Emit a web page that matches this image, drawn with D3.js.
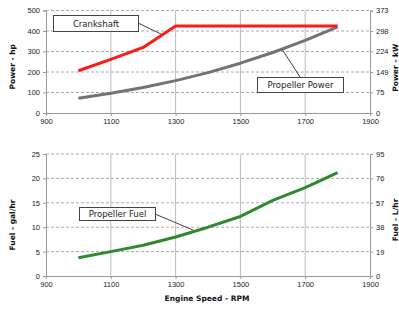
<!DOCTYPE html>
<html>
<head>
<meta charset="utf-8">
<script src="https://cdn.jsdelivr.net/npm/d3@7"></script>
<style>
  body { margin: 0; background: #fff; }
  svg { font-family: 'DejaVu Sans', Verdana, sans-serif; }
  .tick text { font-size: 7.5px; fill: #222; }
  .axis path, .axis line { stroke: #999; }
  .title { font-size: 7.5px; font-weight: bold; fill: #111; }
  .note text { font-size: 8.5px; fill: #222; }
</style>
</head>
<body>
<script>
'use strict'

// engine speed (rpm)
var rpm = [1000, 1100, 1200, 1300, 1400, 1500, 1600, 1700, 1800]
var crankRpm = [1000, 1100, 1200, 1300, 1800]
var crankHp = [206, 262, 320, 424, 424]
var propHp = [72, 96, 124, 158, 197, 243, 295, 354, 420]
var propFuel = [3.75, 5.0, 6.3, 8.0, 10.0, 12.2, 15.5, 18.1, 21.2]

var xTicks = [900, 1100, 1300, 1500, 1700, 1900]
var hpTicks = [0, 100, 200, 300, 400, 500]
var kwTicks = [0, 75, 149, 224, 298, 373]
var galTicks = [0, 5, 10, 15, 20, 25]
var lTicks = [0, 19, 38, 57, 76, 95]

var width = 399
var height = 310

var svg = d3.select('body').append('svg')
  .attr('width', width)
  .attr('height', height)

var x = d3.scaleLinear().domain([900, 1900]).range([46, 370])

function panel (opts) {
  var g = svg.append('g')
  var y = d3.scaleLinear().domain(opts.domain).range([opts.bottom, opts.top])
  var y2 = d3.scaleLinear().domain(opts.domain2).range([opts.bottom, opts.top])

  // dashed horizontal grid
  g.selectAll('.hgrid')
    .data(opts.ticks.slice(1))
    .enter().append('line')
    .attr('x1', x.range()[0]).attr('x2', x.range()[1])
    .attr('y1', function (d) { return y(d) }).attr('y2', function (d) { return y(d) })
    .attr('stroke', '#aaa')
    .attr('stroke-dasharray', '3,2')

  // solid vertical grid
  g.selectAll('.vgrid')
    .data(xTicks.slice(1, -1))
    .enter().append('line')
    .attr('y1', opts.top).attr('y2', opts.bottom)
    .attr('x1', function (d) { return x(d) }).attr('x2', function (d) { return x(d) })
    .attr('stroke', '#bbb')

  g.append('g')
    .attr('class', 'axis')
    .attr('transform', 'translate(0,' + opts.bottom + ')')
    .call(d3.axisBottom(x).tickValues(xTicks).tickSize(3).tickPadding(3).tickFormat(d3.format('d')))

  g.append('g')
    .attr('class', 'axis')
    .attr('transform', 'translate(' + x.range()[0] + ',0)')
    .call(d3.axisLeft(y).tickValues(opts.ticks).tickSize(3).tickPadding(3))

  g.append('g')
    .attr('class', 'axis')
    .attr('transform', 'translate(' + x.range()[1] + ',0)')
    .call(d3.axisRight(y2).tickValues(opts.ticks2).tickSize(3).tickPadding(3))

  g.selectAll('.axis .domain').attr('stroke', '#999')

  var mid = (opts.top + opts.bottom) / 2
  g.append('text')
    .attr('class', 'title')
    .attr('transform', 'translate(15,' + (mid + opts.lShift) + ') rotate(-90)')
    .attr('text-anchor', 'middle')
    .text(opts.leftTitle)

  g.append('text')
    .attr('class', 'title')
    .attr('transform', 'translate(398,' + (mid + opts.rShift) + ') rotate(-90)')
    .attr('text-anchor', 'middle')
    .text(opts.rightTitle)

  return { g: g, y: y }
}

var powerPanel = panel({
  domain: [0, 500], domain2: [0, 373], top: 10.5, bottom: 113,
  ticks: hpTicks, ticks2: kwTicks,
  leftTitle: 'Power - hp', rightTitle: 'Power - kW', lShift: 5, rShift: 6
})

var fuelPanel = panel({
  domain: [0, 25], domain2: [0, 95], top: 154, bottom: 276,
  ticks: galTicks, ticks2: lTicks,
  leftTitle: 'Fuel - gal/hr', rightTitle: 'Fuel - L/hr', lShift: 10, rShift: 5
})

function drawLine (p, xs, ys, color) {
  var line = d3.line()
    .x(function (d, i) { return x(xs[i]) })
    .y(function (d) { return p.y(d) })
  p.g.append('path')
    .datum(ys)
    .attr('d', line)
    .attr('fill', 'none')
    .attr('stroke', color)
    .attr('stroke-width', 3)
    .attr('stroke-linejoin', 'round')
}

drawLine(powerPanel, rpm, propHp, '#6e766f')
drawLine(powerPanel, crankRpm, crankHp, '#ff1a1a')
drawLine(fuelPanel, rpm, propFuel, '#2f8a2f')

// callout boxes with leader lines
function note (label, box, from, to) {
  var g = svg.append('g').attr('class', 'note')
  g.append('line')
    .attr('x1', from[0]).attr('y1', from[1])
    .attr('x2', to[0]).attr('y2', to[1])
    .attr('stroke', '#444').attr('stroke-width', 1)
  g.append('rect')
    .attr('x', box[0]).attr('y', box[1])
    .attr('width', box[2]).attr('height', box[3])
    .attr('fill', '#fff').attr('stroke', '#444')
  g.append('text')
    .attr('x', box[0] + box[2] / 2)
    .attr('y', box[1] + box[3] / 2 + 3)
    .attr('text-anchor', 'middle')
    .text(label)
}

note('Crankshaft', [53.5, 15.5, 85, 16], [138, 23], [161, 34])
note('Propeller Power', [257.5, 77.5, 86, 15], [300, 77], [282, 49])
note('Propeller Fuel', [79.5, 207.5, 76, 13], [155, 214], [193, 230])

svg.append('text')
  .attr('class', 'title')
  .attr('x', 207)
  .attr('y', 301)
  .attr('text-anchor', 'middle')
  .text('Engine Speed - RPM')
</script>
</body>
</html>
